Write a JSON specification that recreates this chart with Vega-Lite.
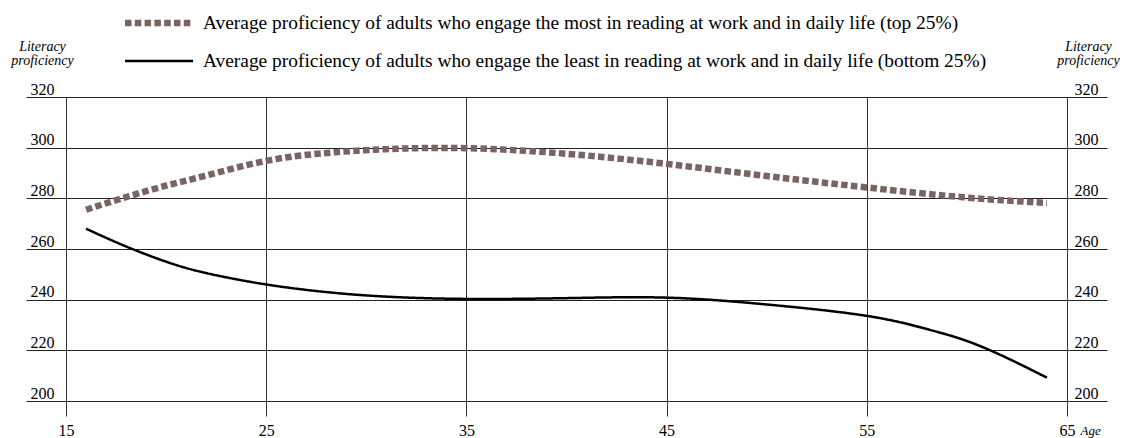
{
  "$schema": "https://vega.github.io/schema/vega-lite/v6.json",
  "autosize": {"type": "none"},
  "padding": {"left": 26, "top": 97, "right": 15, "bottom": 37},
  "width": 1081,
  "height": 304,
  "background": "white",
  "config": {
    "view": {"stroke": null},
    "font": "Liberation Serif",
    "axis": {"labelFont": "Liberation Serif", "titleFont": "Liberation Serif", "labelColor": "#000", "titleColor": "#000"},
    "legend": {"labelFont": "Liberation Serif"}
  },
  "data": {
    "values": [
      {"age": 16, "v": 275.5, "s": "Average proficiency of adults who engage the most in reading at work and in daily life (top 25%)"},
      {"age": 18, "v": 280.5, "s": "Average proficiency of adults who engage the most in reading at work and in daily life (top 25%)"},
      {"age": 20, "v": 285, "s": "Average proficiency of adults who engage the most in reading at work and in daily life (top 25%)"},
      {"age": 22, "v": 289, "s": "Average proficiency of adults who engage the most in reading at work and in daily life (top 25%)"},
      {"age": 25, "v": 294.8, "s": "Average proficiency of adults who engage the most in reading at work and in daily life (top 25%)"},
      {"age": 28, "v": 297.9, "s": "Average proficiency of adults who engage the most in reading at work and in daily life (top 25%)"},
      {"age": 31, "v": 299.4, "s": "Average proficiency of adults who engage the most in reading at work and in daily life (top 25%)"},
      {"age": 35, "v": 299.8, "s": "Average proficiency of adults who engage the most in reading at work and in daily life (top 25%)"},
      {"age": 40, "v": 297.6, "s": "Average proficiency of adults who engage the most in reading at work and in daily life (top 25%)"},
      {"age": 45, "v": 293.6, "s": "Average proficiency of adults who engage the most in reading at work and in daily life (top 25%)"},
      {"age": 50, "v": 288.8, "s": "Average proficiency of adults who engage the most in reading at work and in daily life (top 25%)"},
      {"age": 55, "v": 284.3, "s": "Average proficiency of adults who engage the most in reading at work and in daily life (top 25%)"},
      {"age": 60, "v": 280.3, "s": "Average proficiency of adults who engage the most in reading at work and in daily life (top 25%)"},
      {"age": 64, "v": 278.2, "s": "Average proficiency of adults who engage the most in reading at work and in daily life (top 25%)"},
      {"age": 16, "v": 268, "s": "Average proficiency of adults who engage the least in reading at work and in daily life (bottom 25%)"},
      {"age": 18, "v": 261, "s": "Average proficiency of adults who engage the least in reading at work and in daily life (bottom 25%)"},
      {"age": 20, "v": 255, "s": "Average proficiency of adults who engage the least in reading at work and in daily life (bottom 25%)"},
      {"age": 22, "v": 250.5, "s": "Average proficiency of adults who engage the least in reading at work and in daily life (bottom 25%)"},
      {"age": 25, "v": 246, "s": "Average proficiency of adults who engage the least in reading at work and in daily life (bottom 25%)"},
      {"age": 28, "v": 243, "s": "Average proficiency of adults who engage the least in reading at work and in daily life (bottom 25%)"},
      {"age": 31, "v": 241.2, "s": "Average proficiency of adults who engage the least in reading at work and in daily life (bottom 25%)"},
      {"age": 35, "v": 240.3, "s": "Average proficiency of adults who engage the least in reading at work and in daily life (bottom 25%)"},
      {"age": 40, "v": 240.6, "s": "Average proficiency of adults who engage the least in reading at work and in daily life (bottom 25%)"},
      {"age": 45, "v": 240.8, "s": "Average proficiency of adults who engage the least in reading at work and in daily life (bottom 25%)"},
      {"age": 50, "v": 238.1, "s": "Average proficiency of adults who engage the least in reading at work and in daily life (bottom 25%)"},
      {"age": 55, "v": 233.6, "s": "Average proficiency of adults who engage the least in reading at work and in daily life (bottom 25%)"},
      {"age": 58, "v": 228.4, "s": "Average proficiency of adults who engage the least in reading at work and in daily life (bottom 25%)"},
      {"age": 60, "v": 223.7, "s": "Average proficiency of adults who engage the least in reading at work and in daily life (bottom 25%)"},
      {"age": 62, "v": 217, "s": "Average proficiency of adults who engage the least in reading at work and in daily life (bottom 25%)"},
      {"age": 64, "v": 209.2, "s": "Average proficiency of adults who engage the least in reading at work and in daily life (bottom 25%)"}
    ]
  },
  "resolve": {"axis": {"y": "independent"}},
  "layer": [
    {
      "mark": {"type": "line", "interpolate": "natural"},
      "encoding": {
        "x": {
          "field": "age", "type": "quantitative",
          "scale": {"domain": [13, 67], "nice": false, "zero": false},
          "axis": {
            "values": [15, 25, 35, 45, 55, 65],
            "grid": true, "gridColor": "#333", "gridWidth": 1,
            "domain": false, "ticks": true, "tickSize": 15, "tickColor": "#333",
            "labelFontSize": 16, "labelPadding": 6, "labelBaseline": "top",
            "title": "Age", "titleFontStyle": "italic", "titleFontWeight": "normal", "titleFontSize": 13,
            "titleX": 1054, "titleY": 33, "titleAlign": "left", "titleBaseline": "alphabetic"
          }
        },
        "y": {
          "field": "v", "type": "quantitative",
          "scale": {"domain": [200, 320], "nice": false, "zero": false},
          "axis": {
            "orient": "left", "values": [200, 220, 240, 260, 280, 300, 320],
            "grid": true, "gridColor": "#222", "gridWidth": 1,
            "domain": false, "ticks": false, "tickSize": 0,
            "labelAlign": "left", "labelPadding": -4, "labelBaseline": "alphabetic", "labelOffset": -3,
            "labelFontSize": 16,
            "title": ["Literacy", "proficiency"], "titleFontStyle": "italic", "titleFontWeight": "normal", "titleFontSize": 14,
            "titleAngle": 0, "titleX": 16, "titleY": -58, "titleAlign": "center", "titleBaseline": "top", "titleLineHeight": 14
          }
        },
        "color": {
          "field": "s", "type": "nominal",
          "scale": {
            "domain": ["Average proficiency of adults who engage the most in reading at work and in daily life (top 25%)", "Average proficiency of adults who engage the least in reading at work and in daily life (bottom 25%)"],
            "range": ["#7a6363", "#000000"]
          },
          "legend": {
            "title": null, "orient": "none", "legendX": 121, "legendY": -86, "padding": 0,
            "symbolType": "M-4,0H4", "symbolSize": 289, "rowPadding": 15,
            "labelFontSize": 19.4, "labelOffset": 32, "labelColor": "#000", "labelLimit": 1000
          }
        },
        "strokeDash": {
          "field": "s", "type": "nominal",
          "scale": {
            "domain": ["Average proficiency of adults who engage the most in reading at work and in daily life (top 25%)", "Average proficiency of adults who engage the least in reading at work and in daily life (bottom 25%)"],
            "range": [[6.5, 3.3], [1, 0]]
          },
          "legend": {
            "title": null, "orient": "none", "legendX": 121, "legendY": -86, "padding": 0,
            "symbolType": "M-4,0H4", "symbolSize": 289, "rowPadding": 15,
            "labelFontSize": 19.4, "labelOffset": 32, "labelColor": "#000", "labelLimit": 1000
          }
        },
        "strokeWidth": {
          "field": "s", "type": "nominal",
          "scale": {
            "domain": ["Average proficiency of adults who engage the most in reading at work and in daily life (top 25%)", "Average proficiency of adults who engage the least in reading at work and in daily life (bottom 25%)"],
            "range": [6.5, 2.5]
          },
          "legend": {
            "title": null, "orient": "none", "legendX": 121, "legendY": -86, "padding": 0,
            "symbolType": "M-4,0H4", "symbolSize": 289, "rowPadding": 15,
            "labelFontSize": 19.4, "labelOffset": 32, "labelColor": "#000", "labelLimit": 1000
          }
        }
      }
    },
    {
      "mark": {"type": "point", "opacity": 0},
      "encoding": {
        "x": {"field": "age", "type": "quantitative"},
        "y": {
          "field": "v", "type": "quantitative",
          "axis": {
            "orient": "right", "values": [200, 220, 240, 260, 280, 300, 320],
            "grid": false, "domain": false, "ticks": false, "tickSize": 0,
            "labelAlign": "right", "labelPadding": -9, "labelBaseline": "alphabetic", "labelOffset": -3,
            "labelFontSize": 16,
            "title": ["Literacy", "proficiency"], "titleFontStyle": "italic", "titleFontWeight": "normal", "titleFontSize": 14,
            "titleAngle": 0, "titleX": -19, "titleY": -58, "titleAlign": "center", "titleBaseline": "top", "titleLineHeight": 14
          }
        }
      }
    }
  ]
}
